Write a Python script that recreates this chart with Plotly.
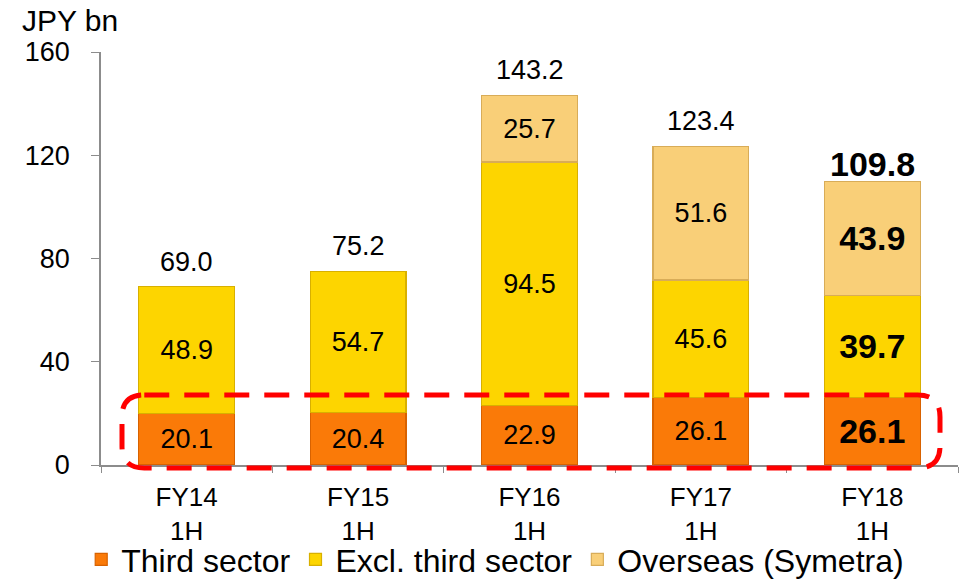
import plotly.graph_objects as go

# Half-year figures, JPY bn
periods = ["FY14<br>1H", "FY15<br>1H", "FY16<br>1H", "FY17<br>1H", "FY18<br>1H"]
third_sector = [20.1, 20.4, 22.9, 26.1, 26.1]
excl_third_sector = [48.9, 54.7, 94.5, 45.6, 39.7]
overseas = [None, None, 25.7, 51.6, 43.9]
totals = [69.0, 75.2, 143.2, 123.4, 109.8]

FONT = "Liberation Sans, Arial, sans-serif"
latest = len(periods) - 1


def label_sizes(values):
    return [34 if i == latest else 27 for i in range(len(values))]


def label_texts(values):
    out = []
    for i, v in enumerate(values):
        if v is None:
            out.append("")
        elif i == latest:
            out.append(f"<b>{v:.1f}</b>")
        else:
            out.append(f"{v:.1f}")
    return out


series = [
    ("Third sector", third_sector, "#FA7A08", "#D86200"),
    ("Excl. third sector", excl_third_sector, "#FDD500", "#D8B000"),
    ("Overseas (Symetra)", overseas, "#F9CF78", "#D8AC58"),
]

fig = go.Figure()
for name, vals, color, edge in series:
    fig.add_trace(go.Bar(
        x=periods,
        y=vals,
        name=name,
        width=0.56,
        marker=dict(color=color, line=dict(color=edge, width=1.2)),
        text=label_texts(vals),
        textposition="inside",
        insidetextanchor="middle",
        textangle=0,
        constraintext="none",
        textfont=dict(family=FONT, size=label_sizes(vals), color="#000000"),
        hoverinfo="skip",
    ))

# Totals above each stack
for i, (p, t) in enumerate(zip(periods, totals)):
    bold = i == latest
    fig.add_annotation(
        x=p, y=t, xref="x", yref="y",
        text=f"<b>{t:.1f}</b>" if bold else f"{t:.1f}",
        showarrow=False,
        yanchor="middle",
        yshift=18 if bold else 25,
        font=dict(family=FONT, size=34 if bold else 27, color="#000000"),
    )

# Unit label
fig.add_annotation(
    xref="paper", yref="paper",
    x=-0.095, y=1.077, xanchor="left", yanchor="middle",
    text="JPY bn", showarrow=False,
    font=dict(family=FONT, size=30, color="#000000"),
)

# Red dashed rounded frame around the third-sector row
x0, x1 = 0.0245, 0.979
y0, y1 = -0.0073, 0.1695
rx, ry = 0.026, 0.053
frame = (
    f"M {x0 + rx},{y1} L {x1 - rx},{y1} Q {x1},{y1} {x1},{y1 - ry} "
    f"L {x1},{y0 + ry} Q {x1},{y0} {x1 - rx},{y0} "
    f"L {x0 + rx},{y0} Q {x0},{y0} {x0},{y0 + ry} "
    f"L {x0},{y1 - ry} Q {x0},{y1} {x0 + rx},{y1} Z"
)
fig.add_shape(
    type="path", path=frame, xref="paper", yref="paper",
    line=dict(color="#FF0000", width=5, dash="25px,15px"),
    layer="above",
)

fig.update_layout(
    barmode="stack",
    width=962,
    height=582,
    margin=dict(l=101, r=4, t=52, b=117, autoexpand=False),
    paper_bgcolor="#FFFFFF",
    plot_bgcolor="#FFFFFF",
    font=dict(family=FONT, size=27, color="#000000"),
    showlegend=True,
    legend=dict(
        orientation="h",
        traceorder="normal",
        x=0.46, xanchor="center",
        y=-0.229, yanchor="middle",
        bgcolor="rgba(0,0,0,0)",
        font=dict(family=FONT, size=32, color="#000000"),
        itemwidth=30,
        borderwidth=0,
    ),
    xaxis=dict(
        showgrid=False,
        showline=True, linecolor="#8C8C8C", linewidth=1.5,
        ticks="outside", tickson="boundaries", ticklen=6, tickcolor="#8C8C8C",
        tickfont=dict(family=FONT, size=26, color="#000000"),
        ticklabelstandoff=8,
    ),
    yaxis=dict(
        range=[0, 160],
        tickvals=[0, 40, 80, 120, 160],
        showgrid=False, zeroline=False,
        showline=True, linecolor="#8C8C8C", linewidth=1.5,
        ticks="outside", ticklen=8, tickcolor="#8C8C8C",
        tickfont=dict(family=FONT, size=27, color="#000000"),
        ticklabelstandoff=16,
    ),
)

fig.write_html("out.html")
